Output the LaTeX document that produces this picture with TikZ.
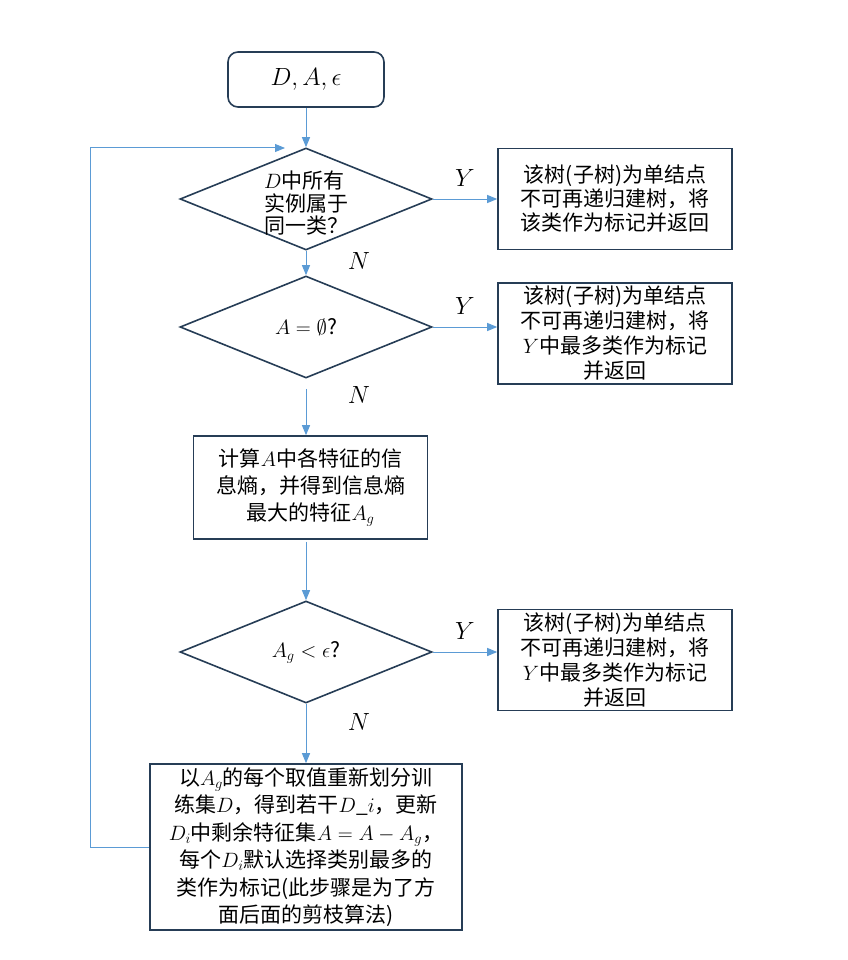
\documentclass[tikz,border=0pt]{standalone}
\usepackage{fontspec}
\setmainfont{Noto Sans CJK SC}
\usepackage{tikz}
\usetikzlibrary{shapes.geometric, arrows.meta, positioning}

\definecolor{boxline}{HTML}{263D56}
\definecolor{flowline}{HTML}{5B9BD5}

\tikzset{
  block/.style={draw=boxline, line width=1.6pt, align=center, inner sep=0pt},
  decision/.style={draw=boxline, line width=1.6pt, diamond, minimum width=252pt, minimum height=102pt, inner sep=0pt},
  flow/.style={draw=flowline, line width=1pt, -{Triangle[length=10pt,width=8pt]}},
  yn/.style={font=\fontsize{25}{30}\selectfont}
}

\begin{document}
\begin{tikzpicture}[x=1pt, y=-1pt, node distance=309pt, font=\fontsize{21}{24}\selectfont]
        \useasboundingbox (0,0) rectangle (847,960);

        \node[block, rounded corners=10pt, minimum width=156pt, minimum height=55pt, font=\fontsize{32}{36}\selectfont] (1) at (306,79.5) {$D, A, \epsilon$};
        \node[decision] (2) at (306,199) {};
        \node[align=left, font=\fontsize{21}{22.5}\selectfont] (2t) at (306,203.5) {$D$中所有\\实例属于\\同一类？};
        \node[block, minimum width=234pt, minimum height=101pt] (3) [right of=2] {该树(子树)为单结点\\不可再递归建树，将\\该类作为标记并返回};

        \node[decision] (4) at (306,327) {$A=\emptyset$?};
        \node[block, minimum width=234pt, minimum height=101pt, font=\fontsize{21}{25}\selectfont] (5) [right of=4, yshift=-6.5pt] {该树(子树)为单结点\\不可再递归建树，将\\$Y$中最多类作为标记\\并返回};

        \node[block, minimum width=234pt, minimum height=103pt, font=\fontsize{21}{27}\selectfont] (6) at (310.5,487.5) {计算$A$中各特征的信\\息熵，并得到信息熵\\最大的特征$A_g$};

        \node[decision] (7) at (306,652) {$A_g<\epsilon$?};
        \node[block, minimum width=234pt, minimum height=101pt, font=\fontsize{21}{25}\selectfont] (8) [right of=7, yshift=-8pt] {该树(子树)为单结点\\不可再递归建树，将\\$Y$中最多类作为标记\\并返回};

        \node[block, minimum width=312pt, minimum height=166pt, font=\fontsize{21}{27.5}\selectfont] (9) at (306,847) {以$A_g$的每个取值重新划分训\\练集$D$，得到若干$D\_i$，更新\\$D_i$中剩余特征集$A=A-A_g$，\\每个$D_i$默认选择类别最多的\\类作为标记(此步骤是为了方\\面后面的剪枝算法)};

        \coordinate (back) at (285,148);

        \draw[flow] (1) -- (2);
        \draw[flow] (2) -- node[midway, above=9pt, yn] {$Y$} (3);
        \draw[flow] (2.south) -- node[pos=0.42, right=38pt, yn] {$N$} (4.north);
        \draw[flow] (4.east) -- node[midway, above=9pt, yn] {$Y$} (4.east -| 5.west);
        \draw[flow, shorten <=10pt] (4.south) -- node[pos=0.29, right=38pt, yn] {$N$} (4.south |- 6.north);
        \draw[flow, shorten <=2pt] (6.south -| 7.north) -- (7.north);
        \draw[flow] (7.east) -- node[midway, above=9pt, yn] {$Y$} (7.east -| 8.west);
        \draw[flow] (7.south) -- node[pos=0.31, right=38pt, yn] {$N$} (9.north);
        \draw[flow] (9.west) -- ++(-59,0) |- (back);
  \end{tikzpicture}
\end{document}
